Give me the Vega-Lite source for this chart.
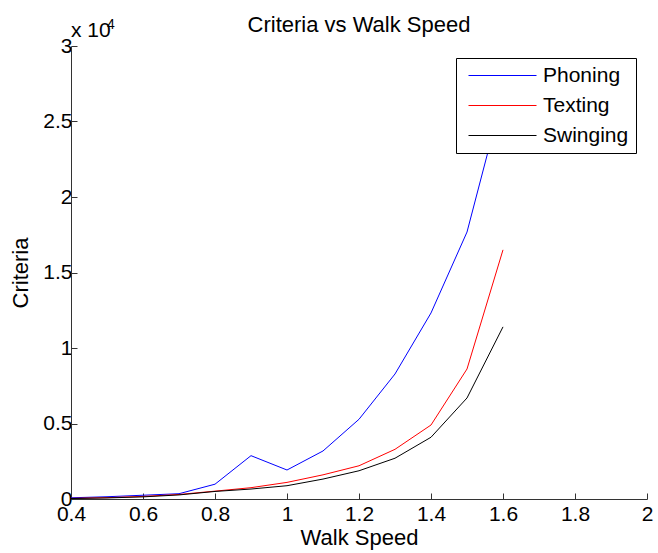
{
  "$schema": "https://vega.github.io/schema/vega-lite/v6.json",
  "autosize": "none",
  "width": 576,
  "height": 453,
  "padding": {"left": 71, "top": 46, "right": 11, "bottom": 54},
  "background": "white",
  "config": {
    "font": "Liberation Sans",
    "view": {"stroke": null},
    "axis": {"grid": false, "labelFont": "Liberation Sans", "titleFont": "Liberation Sans", "labelFontSize": 21, "titleFontSize": 22, "labelColor": "black", "titleColor": "black", "titleFontWeight": "normal", "domainColor": "#333", "tickColor": "#333", "tickSize": -6}
  },
  "title": {"text": "Criteria vs Walk Speed", "fontSize": 22, "fontWeight": "normal", "font": "Liberation Sans", "color": "black", "offset": -19},
  "data": {"values": [
    {"speed": 0.4, "series": "Phoning", "criteria": 80},
    {"speed": 0.5, "series": "Phoning", "criteria": 150},
    {"speed": 0.6, "series": "Phoning", "criteria": 250},
    {"speed": 0.7, "series": "Phoning", "criteria": 350},
    {"speed": 0.8, "series": "Phoning", "criteria": 980},
    {"speed": 0.9, "series": "Phoning", "criteria": 2870},
    {"speed": 1.0, "series": "Phoning", "criteria": 1920},
    {"speed": 1.1, "series": "Phoning", "criteria": 3180},
    {"speed": 1.2, "series": "Phoning", "criteria": 5280},
    {"speed": 1.3, "series": "Phoning", "criteria": 8280},
    {"speed": 1.4, "series": "Phoning", "criteria": 12320},
    {"speed": 1.5, "series": "Phoning", "criteria": 17680},
    {"speed": 1.6, "series": "Phoning", "criteria": 26800},
    {"speed": 0.4, "series": "Texting", "criteria": 40},
    {"speed": 0.5, "series": "Texting", "criteria": 90},
    {"speed": 0.6, "series": "Texting", "criteria": 170},
    {"speed": 0.7, "series": "Texting", "criteria": 300},
    {"speed": 0.8, "series": "Texting", "criteria": 520},
    {"speed": 0.9, "series": "Texting", "criteria": 750},
    {"speed": 1.0, "series": "Texting", "criteria": 1100},
    {"speed": 1.1, "series": "Texting", "criteria": 1600},
    {"speed": 1.2, "series": "Texting", "criteria": 2200},
    {"speed": 1.3, "series": "Texting", "criteria": 3290},
    {"speed": 1.4, "series": "Texting", "criteria": 4900},
    {"speed": 1.5, "series": "Texting", "criteria": 8610},
    {"speed": 1.6, "series": "Texting", "criteria": 16500},
    {"speed": 0.4, "series": "Swinging", "criteria": 30},
    {"speed": 0.5, "series": "Swinging", "criteria": 70},
    {"speed": 0.6, "series": "Swinging", "criteria": 140},
    {"speed": 0.7, "series": "Swinging", "criteria": 270},
    {"speed": 0.8, "series": "Swinging", "criteria": 500},
    {"speed": 0.9, "series": "Swinging", "criteria": 660},
    {"speed": 1.0, "series": "Swinging", "criteria": 880},
    {"speed": 1.1, "series": "Swinging", "criteria": 1320},
    {"speed": 1.2, "series": "Swinging", "criteria": 1870},
    {"speed": 1.3, "series": "Swinging", "criteria": 2700},
    {"speed": 1.4, "series": "Swinging", "criteria": 4090},
    {"speed": 1.5, "series": "Swinging", "criteria": 6690},
    {"speed": 1.6, "series": "Swinging", "criteria": 11400}
  ]},
  "layer": [
    {
      "mark": {"type": "line", "strokeWidth": 1},
      "encoding": {
        "x": {"field": "speed", "type": "quantitative", "scale": {"domain": [0.4, 2], "nice": false, "zero": false},
              "axis": {"title": "Walk Speed", "values": [0.4, 0.6, 0.8, 1, 1.2, 1.4, 1.6, 1.8, 2], "format": "~g", "labelPadding": 10, "titlePadding": 3, "labelFlush": false}},
        "y": {"field": "criteria", "type": "quantitative", "scale": {"domain": [0, 30000], "nice": false},
              "axis": {"title": "Criteria", "values": [0, 5000, 10000, 15000, 20000, 25000, 30000], "labelExpr": "format(datum.value / 10000, '~g')", "labelPadding": 5, "titlePadding": 10}},
        "color": {"field": "series", "type": "nominal",
                  "scale": {"domain": ["Phoning", "Texting", "Swinging"], "range": ["#0000ff", "#ff0000", "#000000"]},
                  "legend": {"title": null, "orient": "none", "legendX": 385, "legendY": 12, "strokeColor": "black", "fillColor": "white", "padding": 7, "symbolType": "stroke", "symbolSize": 4624, "symbolStrokeWidth": 1, "symbolOffset": 5, "labelFontSize": 21, "labelFont": "Liberation Sans", "labelColor": "black", "labelOffset": 6, "clipHeight": 21, "rowPadding": 8}},
        "order": {"field": "speed", "type": "quantitative"}
      }
    },
    {
      "data": {"values": [{"t": "x 10"}]},
      "mark": {"type": "text", "align": "left", "baseline": "alphabetic", "fontSize": 21, "font": "Liberation Sans", "color": "black", "dx": 0, "dy": -9},
      "encoding": {"x": {"datum": 0.4}, "y": {"datum": 30000}, "text": {"field": "t"}}
    },
    {
      "data": {"values": [{"t": "4"}]},
      "mark": {"type": "text", "align": "left", "baseline": "alphabetic", "fontSize": 14, "font": "Liberation Sans", "color": "black", "dx": 36, "dy": -17},
      "encoding": {"x": {"datum": 0.4}, "y": {"datum": 30000}, "text": {"field": "t"}}
    }
  ]
}
